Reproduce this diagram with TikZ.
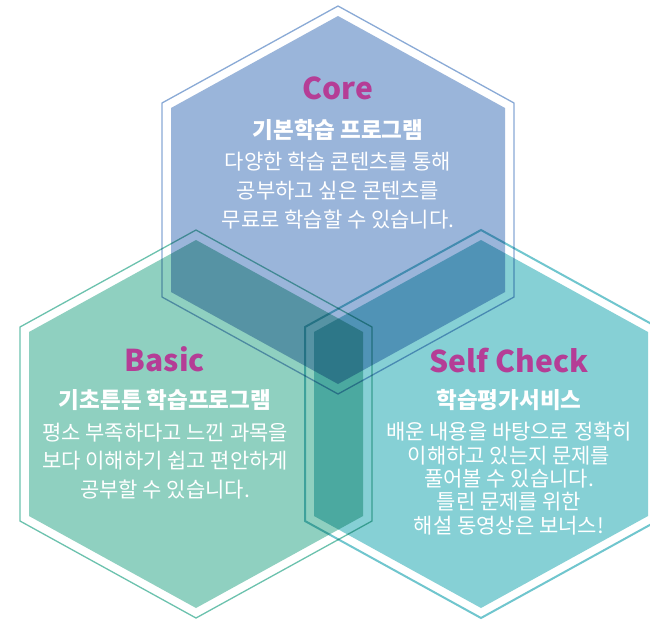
\documentclass[tikz,border=0pt]{standalone}
\usepackage{fontspec}
\setmainfont{Noto Sans CJK KR}
\usepackage{tikz}

\definecolor{corefill}{RGB}{154,181,218}
\definecolor{basicfill}{RGB}{143,208,192}
\definecolor{selffill}{RGB}{134,208,213}
\definecolor{coreline}{RGB}{138,170,214}
\definecolor{basicline}{RGB}{108,194,174}
\definecolor{selfline}{RGB}{112,198,206}
\definecolor{titlepink}{RGB}{181,61,150}

% style, centre x, centre y, half width, half height
\newcommand{\hexshape}[5]{%
  \path[#1] (#2,#3-#5) -- (#2+#4,#3-#5/2) -- (#2+#4,#3+#5/2)
    -- (#2,#3+#5) -- (#2-#4,#3+#5/2) -- (#2-#4,#3-#5/2) -- cycle;}

\tikzset{
  hexfill/.style={fill=#1, blend mode=multiply},
  hexline/.style={draw=#1, line width=1.3pt, blend mode=multiply},
  titletext/.style={anchor=base, text=titlepink, font=\fontsize{30}{34}\selectfont\bfseries},
  subtext/.style={anchor=base, text=white, font=\fontsize{22.5}{26}\selectfont\bfseries},
  bodytext/.style={anchor=base, text=white, align=center, font=\fontsize{21}{#1}\selectfont},
}

\begin{document}
\begin{tikzpicture}[x=1pt, y=-1pt]
  \fill[white] (0,0) rectangle (650,619);
  \useasboundingbox (0,0) rectangle (650,619);
  \clip (0,0) rectangle (650,619);

  % hexagons
  \hexshape{hexfill=corefill}{338}{200}{167}{184}
  \hexshape{hexfill=basicfill}{196}{424}{167}{184}
  \hexshape{hexfill=selffill}{481}{424}{167}{184}
  \hexshape{hexline=coreline}{338}{200}{176}{194}
  \hexshape{hexline=basicline}{196}{424}{176}{194}
  \hexshape{hexline=selfline, line width=2pt}{481}{424}{176}{194}

  % Core (body placed by its last line)
  \node[titletext] (coretitle) at (338,99) {Core};
  \node[subtext] (coresub) at (338,138) {기본학습 프로그램};
  \node[bodytext=29pt] (corebody) at (338,227)
    {다양한 학습 콘텐츠를 통해\\공부하고 싶은 콘텐츠를\\무료로 학습할 수 있습니다.};

  % Basic
  \node[titletext] (basictitle) at (165,371) {Basic};
  \node[subtext] (basicsub) at (165,408) {기초튼튼 학습프로그램};
  \node[bodytext=28.5pt] (basicbody) at (165,497)
    {평소 부족하다고 느낀 과목을\\보다 이해하기 쉽고 편안하게\\공부할 수 있습니다.};

  % Self Check
  \node[titletext] (selftitle) at (509,372) {Self Check};
  \node[subtext] (selfsub) at (509,408) {학습평가서비스};
  \node[bodytext=23.3pt] (selfbody) at (509,533)
    {배운 내용을 바탕으로 정확히\\이해하고 있는지 문제를\\풀어볼 수 있습니다.\\틀린 문제를 위한\\해설 동영상은 보너스!};
\end{tikzpicture}
\end{document}
